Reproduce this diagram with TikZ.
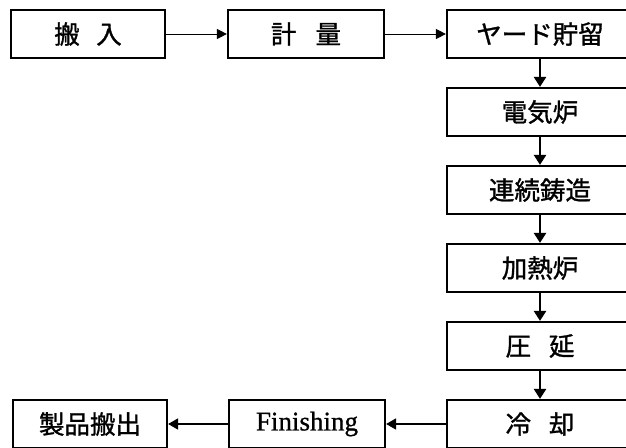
\documentclass[tikz,border=0pt]{standalone}
\usepackage{fontspec}
\setmainfont{Liberation Serif}
\newfontfamily\cjk{Noto Sans CJK JP}[FakeBold=1.2]
\newfontfamily\latn{Liberation Serif}[FakeBold=0.8]
\usetikzlibrary{arrows.meta}
\begin{document}
\begin{tikzpicture}[x=1pt,y=-1pt,
  box/.style={draw,line width=2.2pt,minimum height=48pt,inner sep=0pt,
    font=\cjk\fontsize{25.5}{26}\selectfont},
  lbox/.style={box,minimum width=154pt},
  mbox/.style={box,minimum width=156pt},
  rbox/.style={box,minimum width=186pt},
  harr/.style={-{Triangle[length=10pt,width=10pt]},line width=1pt},
  barr/.style={-{Triangle[length=10pt,width=11pt]},line width=1.6pt},
  varr/.style={-{Triangle[length=10pt,width=12pt]},line width=2.5pt}]
\useasboundingbox (0,0) rectangle (626,447);
\clip (0,0) rectangle (626,447);
\fill[white] (0,0) rectangle (626,447);
\node[lbox] (hannyu) at (88,34) {搬\hspace{0.65em}入};
\node[mbox] (keiryo) at (306,34) {計\hspace{0.75em}量};
\node[rbox] (yard) at (540,34) {ヤード貯留};
\node[rbox] (denki) at (540,112) {電気炉};
\node[rbox] (renzoku) at (540,190) {連続鋳造};
\node[rbox] (kanetsu) at (540,268) {加熱炉};
\node[rbox] (atsuen) at (540,346) {圧\hspace{0.7em}延};
\node[rbox] (reikyaku) at (540,424) {冷\hspace{0.7em}却};
\node[mbox,font=\latn\fontsize{27}{27}\selectfont] (fin) at (307,424) {Finishing};
\node[lbox] (seihin) at (90,424) {製品搬出};
\draw[harr] (hannyu) -- (keiryo);
\draw[harr] (keiryo) -- (yard);
\draw[varr] (yard) -- (denki);
\draw[varr] (denki) -- (renzoku);
\draw[varr] (renzoku) -- (kanetsu);
\draw[varr] (kanetsu) -- (atsuen);
\draw[varr] (atsuen) -- (reikyaku);
\draw[barr] (reikyaku) -- (fin);
\draw[barr] (fin) -- (seihin);
\end{tikzpicture}
\end{document}
